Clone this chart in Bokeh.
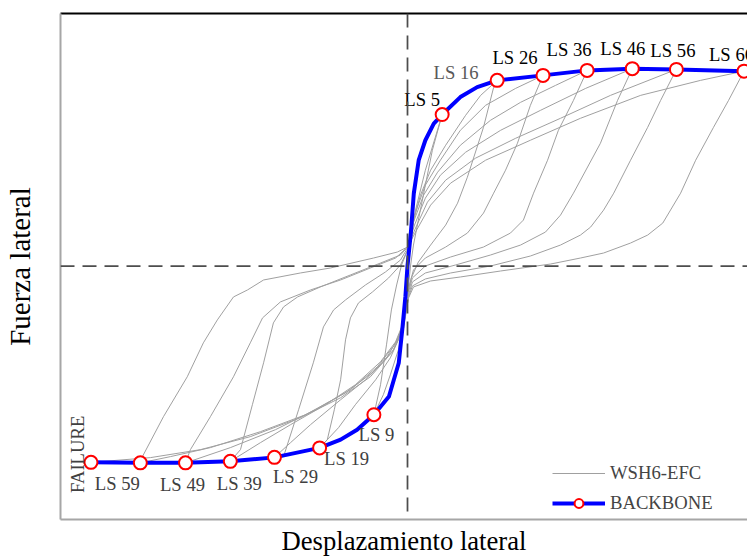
from math import pi
from bokeh.plotting import figure
from bokeh.models import (Range1d, LinearAxis, FixedTicker, Span, Legend,
                          LegendItem, ColumnDataSource)
from bokeh.core.properties import value
from bokeh.embed import file_html
from bokeh.resources import INLINE

# ---------------- data (displacement units, force units) ----------------
# Backbone (envelope) curve
bb_x = [-90.4, -76.3, -63.4, -50.6, -38.0, -25.1, -19.1, -14.4, -9.6, -5.3, -3.9, -2.5,
        -1.5, -0.6, 0.0, 1.0, 1.8, 3.2, 5.1, 7.5, 9.9, 15.1, 19.9, 25.6, 38.7, 51.3,
        64.2, 76.8, 96.1]
bb_y = [-78.7, -78.9, -78.9, -78.3, -76.7, -72.9, -69.6, -65.6, -59.6, -52.3, -45.6, -38.9,
        -25.6, -12.3, 0.0, 14.0, 29.1, 42.4, 50.4, 57.1, 60.7, 67.7, 71.7, 74.4, 76.4, 78.4,
        79.1, 78.8, 78.1]

# Limit states on the backbone
ls_names = ["FAILURE", "LS 59", "LS 49", "LS 39", "LS 29", "LS 19", "LS 9",
            "LS 5", "LS 16", "LS 26", "LS 36", "LS 46", "LS 56", "LS 66"]
ls_x = [-90.4, -76.3, -63.4, -50.6, -38.0, -25.1, -9.6, 9.9, 25.6, 38.7, 51.3, 64.2, 76.8, 96.1]
ls_y = [-78.7, -78.9, -78.9, -78.3, -76.7, -72.9, -59.6, 60.7, 74.4, 76.4, 78.4, 79.1, 78.8, 78.1]

# Hysteresis cycles of WSH6-EFC (time ordered)
cyc1_x = [0.0, 0.9, 2.3, 5.1, 9.9, 7.1, 5.1, 3.1, 1.7, 0.9, 0.3, -0.9, -2.6, -4.9, -6.9, -9.6,
          -7.7, -6.0, -4.6, -3.1, -1.7, 0.0]
cyc1_y = [0.0, 10.4, 22.4, 38.4, 60.7, 46.4, 32.4, 18.4, 8.4, 0.4, -7.6, -21.6, -33.6, -43.6,
          -51.6, -59.6, -47.6, -31.6, -17.6, -7.6, 0.4, 6.4]
cyc2_x = [1.4, 3.7, 6.6, 10.9, 16.6, 20.9, 25.6, 24.6, 21.7, 17.1, 14.3, 10.9, 6.6, 3.1, 1.1,
          0.3, -0.9, -2.6, -4.9, -9.1, -14.9, -19.7, -25.1, -22.9, -20.9, -19.1, -17.7, -16.3,
          -14.0, -10.0, -5.4, -2.0, 0.0]
cyc2_y = [16.4, 28.4, 38.4, 48.4, 60.4, 68.4, 74.4, 71.6, 55.6, 35.6, 25.2, 16.4, 8.4, 1.6,
          -4.8, -9.6, -20.8, -29.6, -36.8, -45.6, -55.6, -64.8, -72.9, -69.6, -57.6, -45.6,
          -29.6, -20.8, -14.8, -10.4, -4.8, 0.4, 6.4]
cyc3_x = [2.0, 5.1, 9.4, 15.1, 22.3, 30.9, 38.7, 35.1, 31.4, 28.0, 24.6, 21.7, 17.1, 10.9, 5.1,
          1.7, 0.3, -0.9, -2.9, -6.3, -12.0, -19.1, -27.7, -33.4, -38.0, -35.4, -31.1, -26.9,
          -24.0, -21.1, -17.7, -12.0, -6.3, -2.0, 0.0]
cyc3_y = [20.4, 32.4, 42.4, 54.4, 64.4, 71.2, 76.4, 64.4, 49.2, 38.4, 29.2, 21.2, 13.2, 7.6,
          3.2, -1.6, -8.8, -21.6, -29.6, -37.6, -45.6, -53.6, -63.6, -70.8, -76.7, -76.4,
          -57.6, -38.8, -24.4, -17.6, -13.6, -7.6, -2.4, 2.4, 7.2]
cyc4_x = [1.7, 4.6, 8.6, 15.1, 23.7, 32.3, 42.3, 51.3, 47.4, 43.1, 40.0, 36.0, 33.1, 29.4, 21.7,
          12.3, 5.1, 1.4, 0.3, -1.1, -3.4, -7.7, -14.9, -23.4, -33.4, -42.0, -50.6, -47.7,
          -44.3, -41.1, -38.3, -35.4, -31.4, -24.9, -16.3, -7.7, -2.0, 0.0]
cyc4_y = [17.6, 28.4, 37.6, 48.4, 58.4, 65.6, 72.4, 78.4, 66.4, 54.4, 42.4, 29.2, 18.4, 13.2,
          7.6, 3.6, 0.0, -4.8, -10.4, -22.4, -30.4, -38.4, -47.6, -55.6, -63.6, -70.8, -78.3,
          -73.6, -55.6, -38.8, -22.8, -16.4, -12.4, -8.4, -3.6, 1.2, 4.4, 7.6]
cyc5_x = [2.0, 5.1, 9.4, 16.6, 26.6, 38.0, 50.9, 64.2, 60.0, 55.1, 47.4, 43.7, 39.4, 32.3, 23.7,
          13.7, 5.1, 1.4, 0.3, -1.1, -3.7, -8.6, -16.3, -26.3, -37.7, -50.6, -63.4, -62.0,
          -56.3, -49.7, -44.9, -41.4, -36.3, -27.7, -19.1, -10.6, -3.4, 0.0]
cyc5_y = [16.4, 27.2, 36.4, 45.6, 54.4, 62.4, 71.2, 79.1, 66.4, 49.2, 29.2, 20.4, 13.6, 8.4,
          4.4, 0.4, -2.8, -6.4, -11.6, -23.6, -31.6, -40.4, -49.6, -57.6, -65.6, -72.8, -78.9,
          -73.6, -60.4, -44.4, -30.8, -20.8, -14.4, -9.6, -5.6, -0.8, 3.2, 7.6]
cyc6_x = [2.3, 5.7, 10.9, 19.4, 30.9, 43.7, 58.0, 76.8, 72.3, 68.6, 63.7, 58.9, 56.0, 52.3, 49.4,
          43.7, 35.1, 23.7, 12.3, 5.1, 1.4, 0.3, -1.1, -4.0, -9.7, -17.7, -29.1, -42.0, -56.3,
          -67.7, -76.3, -75.7, -69.7, -62.9, -58.3, -54.3, -49.7, -45.7, -41.1, -30.6, -22.0,
          -9.7, -2.9, 0.0]
cyc6_y = [15.2, 25.6, 34.4, 43.2, 51.2, 59.2, 68.4, 78.8, 66.4, 55.6, 42.4, 29.2, 22.4, 15.6,
          12.4, 8.4, 4.0, 0.0, -2.8, -5.2, -8.0, -12.4, -24.8, -33.6, -42.4, -50.8, -59.6, -66.4,
          -72.8, -76.4, -78.9, -76.4, -60.4, -44.4, -30.8, -21.6, -12.4, -9.6, -5.6, -2.8,
          -0.8, 3.2, 5.6, 7.6]
cyc7_x = [2.6, 6.6, 12.3, 22.3, 35.1, 49.4, 66.6, 83.7, 96.1, 91.7, 87.4, 82.3, 78.0, 72.9, 68.6,
          63.7, 56.0, 49.4, 40.9, 26.6, 15.1, 6.6, 1.7, 0.3, -1.4, -4.3, -10.6, -19.1, -30.6,
          -44.9, -59.1, -73.4, -90.4]
cyc7_y = [14.4, 24.4, 33.2, 42.4, 50.4, 59.2, 68.4, 74.4, 78.1, 66.4, 55.6, 42.4, 29.2, 17.2,
          12.4, 9.2, 5.2, 3.2, 0.8, -2.0, -4.4, -6.0, -8.4, -12.8, -25.6, -34.4, -44.4, -52.8,
          -60.8, -68.4, -73.6, -76.8, -78.7]

hys_x = cyc1_x + cyc2_x + cyc3_x + cyc4_x + cyc5_x + cyc6_x + cyc7_x
hys_y = cyc1_y + cyc2_y + cyc3_y + cyc4_y + cyc5_y + cyc6_y + cyc7_y

# ---------------- label styling (screen offsets, colours) ----------------
lab_dx = [-13, -23, -3, 9, 21, 27, 2.5, -20, -41, -28, -18, -9.5, -3.5, -12.5]
lab_dy = [-8, 21, 22, 22, 19, 11, 20, -15, -8, -18, -21, -20, -19, -17]
lab_angle = [pi / 2] + [0.0] * 13
lab_color = ["#404040"] * 7 + ["#000000", "#595959"] + ["#000000"] * 5

SERIF = "Liberation Serif"

p = figure(width=747, height=558, output_backend="svg", toolbar_location=None,
           x_range=Range1d(-99.1, 97.1), y_range=Range1d(-101.6, 101.2),
           min_border_left=60, min_border_right=0, min_border_top=13, min_border_bottom=38)
p.grid.visible = False
p.outline_line_color = None
p.background_fill_color = "white"
p.border_fill_color = "white"

for ax in list(p.xaxis) + list(p.yaxis):
    ax.ticker = FixedTicker(ticks=[])
    ax.major_tick_out = 0
    ax.major_tick_in = 0
    ax.minor_tick_out = 0
    ax.minor_tick_in = 0
    ax.major_label_text_font_size = "0px"
    ax.major_label_standoff = 0
    ax.axis_line_color = "#a6a6a6"
    ax.axis_line_width = 2
    ax.axis_label_text_font = SERIF
    ax.axis_label_text_font_style = "normal"
    ax.axis_label_text_color = "#000000"

p.xaxis.axis_label = "Desplazamiento lateral"
p.xaxis.axis_label_text_font_size = "26.67px"
p.xaxis.axis_label_standoff = 6
p.yaxis.axis_label = "Fuerza lateral"
p.yaxis.axis_label_text_font_size = "29px"
p.yaxis.axis_label_standoff = 25

top = LinearAxis(ticker=FixedTicker(ticks=[]), major_tick_out=0, major_tick_in=0,
                 minor_tick_out=0, minor_tick_in=0, major_label_text_font_size="0px",
                 major_label_standoff=0, axis_line_color="#000000", axis_line_width=2)
p.add_layout(top, "above")

p.add_layout(Span(location=0, dimension="height", line_color="#4d4d4d",
                  line_width=1.75, line_dash="14 8"))
p.add_layout(Span(location=0, dimension="width", line_color="#4d4d4d",
                  line_width=1.75, line_dash="14 8"))

r_h = p.line(hys_x, hys_y, line_color="#a0a0a0", line_width=1, line_join="round")
r_b = p.line(bb_x, bb_y, line_color="#0000ff", line_width=4, line_join="round")
r_m = p.scatter(ls_x, ls_y, marker="circle", size=13, line_color="#ff0000",
                line_width=2, fill_color="white")

lab_src = ColumnDataSource(dict(x=ls_x, y=ls_y, text=ls_names, dx=lab_dx, dy=lab_dy,
                                angle=lab_angle, color=lab_color))
p.text(x="x", y="y", text="text", x_offset="dx", y_offset="dy", angle="angle",
       text_color="color", source=lab_src, text_font=value(SERIF),
       text_font_size="18.67px", text_align="center", text_baseline="middle")

legend = Legend(items=[LegendItem(label="WSH6-EFC", renderers=[r_h]),
                       LegendItem(label="BACKBONE", renderers=[r_b, r_m])],
                location=(492, 5), label_text_font=SERIF, label_text_font_size="18.67px",
                glyph_width=53, glyph_height=22, label_standoff=5, spacing=8,
                padding=0, margin=0, border_line_color=None, background_fill_alpha=0)
p.add_layout(legend)

open("out.html", "w").write(file_html(p, INLINE))
